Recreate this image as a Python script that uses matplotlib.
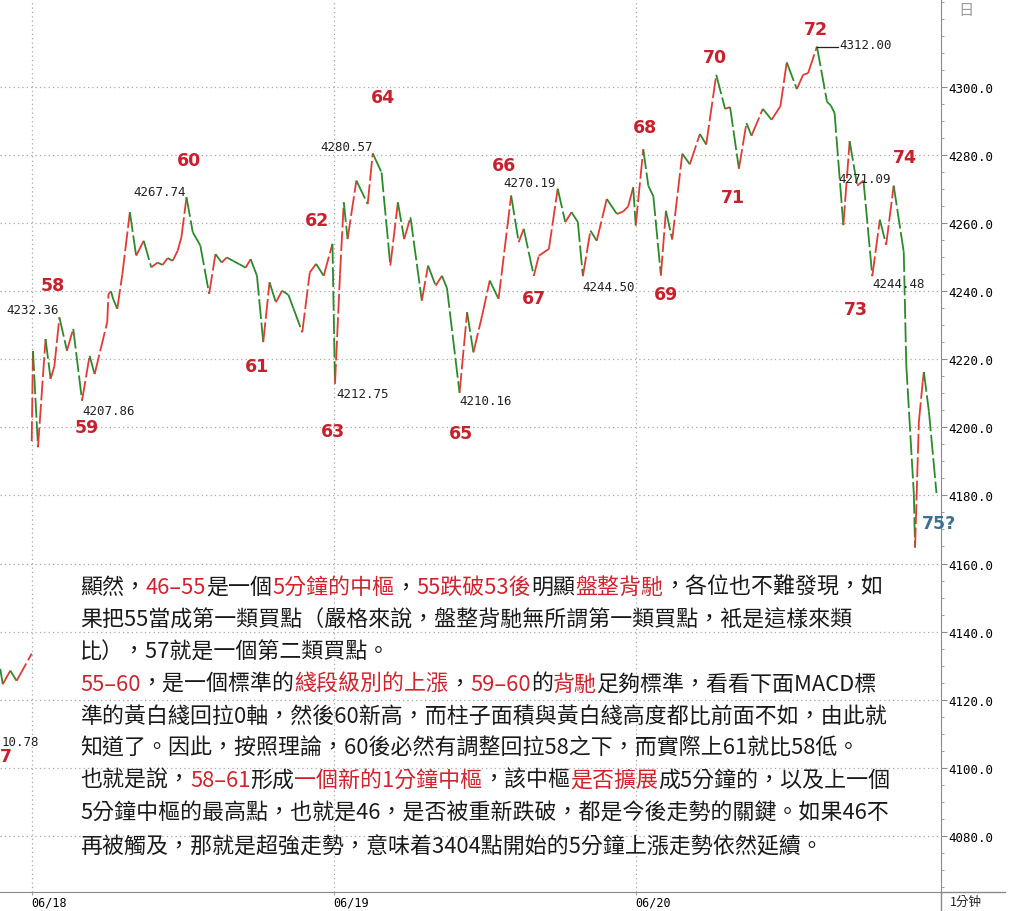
import matplotlib
matplotlib.use("Agg")
import matplotlib.pyplot as plt
from matplotlib.collections import LineCollection
from matplotlib.lines import Line2D
import numpy as np

# 1-minute closes; minutes counted from the 06/18 open (240 per session)
minutes = [0, 1, 5, 11, 15, 18, 22, 28, 33, 40, 46, 50, 60, 61, 63, 65, 68, 72, 78, 83,
           89, 95, 100, 104, 108, 112, 116, 119, 123, 128, 134, 141, 146, 151, 155, 160,
           165, 170, 174, 179, 184, 189, 194, 199, 204, 208, 215, 221, 226, 232, 239,
           241, 245, 248, 251, 258, 267, 271, 278, 285, 291, 296, 301, 310, 315, 321,
           326, 330, 340, 346, 351, 358, 364, 371, 381, 387, 391, 399, 403, 411, 418,
           424, 429, 434, 438, 444, 449, 457, 465, 470, 474, 478, 480, 486, 490, 494,
           500, 504, 509, 517, 523, 531, 536, 544, 551, 555, 562, 568, 572, 581, 588,
           595, 600, 608, 613, 617, 624, 632, 635, 638, 645, 650, 656, 661, 668, 674,
           679, 685, 693, 695, 701, 702, 705, 708, 709, 713, 719]
prices = [4196.0, 4222.5, 4194.2, 4226.0, 4214.3, 4218.0, 4232.4, 4222.6, 4229.0, 4207.9,
          4221.1, 4215.7, 4231.0, 4239.3, 4240.0, 4237.5, 4234.9, 4245.0, 4263.3, 4250.5,
          4254.9, 4247.1, 4248.5, 4247.8, 4249.8, 4249.0, 4252.0, 4256.0, 4267.7, 4257.4,
          4253.5, 4239.3, 4251.0, 4248.5, 4250.0, 4249.0, 4248.0, 4247.0, 4249.5, 4244.6,
          4225.1, 4242.7, 4236.8, 4240.2, 4239.0, 4235.0, 4228.0, 4245.6, 4248.1, 4244.6,
          4254.0, 4212.8, 4245.0, 4266.2, 4255.4, 4272.6, 4265.7, 4280.6, 4275.0, 4247.6,
          4266.2, 4255.4, 4261.8, 4237.3, 4247.6, 4241.7, 4244.6, 4241.0, 4210.2, 4233.9,
          4222.1, 4233.0, 4243.2, 4237.8, 4268.2, 4254.5, 4258.4, 4244.6, 4250.5, 4252.5,
          4270.2, 4260.4, 4263.3, 4260.4, 4244.5, 4257.9, 4254.9, 4267.2, 4262.8, 4263.5,
          4265.0, 4270.6, 4259.4, 4281.8, 4271.1, 4268.0, 4244.7, 4263.7, 4255.3, 4280.5,
          4277.4, 4286.3, 4283.2, 4303.7, 4293.7, 4294.2, 4276.1, 4289.5, 4285.8, 4293.7,
          4290.5, 4294.5, 4307.4, 4299.5, 4303.7, 4304.2, 4312.0, 4295.8, 4294.7, 4292.5,
          4259.5, 4284.2, 4271.1, 4272.6, 4244.5, 4261.1, 4253.7, 4271.1, 4251.6, 4218.4,
          4180.5, 4164.7, 4201.6, 4213.2, 4216.3, 4204.7, 4180.7]

# tail of an older picture showing in the bottom-left corner
prev_minutes = [-25, -23, -17, -12, 0]
prev_prices = [4129.0, 4124.5, 4128.5, 4125.5, 4133.5]

day_starts = [0, 240, 480]
day_labels = ["06/18", "06/19", "06/20"]
y_ticks = list(range(4080, 4301, 20))

# segment numbers (red)
seg_labels = ["58", "59", "60", "61", "62", "63", "64", "65", "66", "67",
              "68", "69", "70", "71", "72", "73", "74"]
seg_x = [17, 44, 125, 179, 227, 239, 279, 341, 375, 399,
         487, 504, 543, 557, 623, 655, 694]
seg_y = [4241.9, 4200.1, 4278.7, 4218.2, 4261.0, 4199.0, 4297.1, 4198.4, 4277.1, 4238.1,
         4288.3, 4239.3, 4309.0, 4267.8, 4317.2, 4234.9, 4279.6]

# high/low price notes (black)
note_texts = ["4232.36", "4207.86", "4267.74", "4280.57", "4212.75", "4210.16",
              "4270.19", "4244.50", "4312.00", "4271.09", "4244.48", "10.78"]
note_x = [-20.4, 40.0, 80.5, 229.1, 241.8, 339.6, 374.5, 437.3, 642.2, 641.4, 667.7, -23.6]
note_y = [4234.6, 4204.9, 4269.4, 4282.5, 4210.1, 4207.8, 4271.9, 4241.6, 4312.5, 4273.1,
          4242.2, 4107.8]

RED = "#d2222e"
BLACK = "#1a1a1a"
text_lines = [
    [("顯然，", BLACK), ("46–55", RED), ("是一個", BLACK), ("5分鐘的中樞", RED), ("，", BLACK),
     ("55跌破53後", RED), ("明顯", BLACK), ("盤整背馳", RED), ("，各位也不難發現，如", BLACK)],
    [("果把55當成第一類買點（嚴格來說，盤整背馳無所謂第一類買點，衹是這樣來類", BLACK)],
    [("比），57就是一個第二類買點。", BLACK)],
    [("55–60", RED), ("，是一個標準的", BLACK), ("綫段級別的上漲", RED), ("，", BLACK),
     ("59–60", RED), ("的", BLACK), ("背馳", RED), ("足夠標準，看看下面MACD標", BLACK)],
    [("準的黃白綫回拉0軸，然後60新高，而柱子面積與黃白綫高度都比前面不如，由此就", BLACK)],
    [("知道了。因此，按照理論，60後必然有調整回拉58之下，而實際上61就比58低。", BLACK)],
    [("也就是說，", BLACK), ("58–61", RED), ("形成", BLACK), ("一個新的1分鐘中樞", RED),
     ("，該中樞", BLACK), ("是否擴展", RED), ("成5分鐘的，以及上一個", BLACK)],
    [("5分鐘中樞的最高點，也就是46，是否被重新跌破，都是今後走勢的關鍵。如果46不", BLACK)],
    [("再被觸及，那就是超強走勢，意味着3404點開始的5分鐘上漲走勢依然延續。", BLACK)],
]

W, H = 1012, 912
CJK = ["Noto Sans CJK TC", "DejaVu Sans"]
MONO = "DejaVu Sans Mono"


def draw_price_line(ax, xs, ys):
    pts = np.column_stack([xs, ys])
    segs = np.stack([pts[:-1], pts[1:]], axis=1)
    cols = ["#e23a36" if b >= a else "#2b8a2b" for a, b in zip(ys[:-1], ys[1:])]
    # each segment restarts the dash pattern, so short wiggles stay solid
    lc = LineCollection(segs, colors=cols, linewidths=1.3, linestyles=[(0, (11, 2))],
                        capstyle="butt", zorder=3)
    ax.add_collection(lc)


def draw_rich_line(fig, renderer, x0_px, y_px, pieces, size=15.8):
    x = x0_px / W
    y = 1 - y_px / H
    for s, c in pieces:
        t = fig.text(x, y, s, color=c, fontsize=size, family=CJK, fontweight="medium",
                     ha="left", va="center")
        bb = t.get_window_extent(renderer=renderer)
        x += bb.width / fig.bbox.width


def main():
    fig = plt.figure(figsize=(W / 100, H / 100), dpi=100)
    ax = fig.add_axes([0, 19 / H, 941 / W, 893 / H])
    ax.set_xlim(-25.2, 722.6)
    ax.set_ylim(4063.4, 4326.0)

    for sp in ["top", "left"]:
        ax.spines[sp].set_visible(False)
    ax.spines["right"].set_color("#8a8a8a")
    ax.spines["bottom"].set_color("#8a8a8a")

    grid_kw = dict(color="#a8a8a8", lw=0.9, ls=(0, (1, 2.5)), zorder=1)
    for v in y_ticks:
        ax.axhline(v, **grid_kw)
    for d in day_starts:
        ax.axvline(d, **grid_kw)

    ax.yaxis.tick_right()
    ax.set_yticks(y_ticks)
    ax.set_yticklabels([f"{v:.1f}" for v in y_ticks], fontsize=9, family=MONO)
    ax.set_yticks(list(range(4065, 4326, 5)), minor=True)
    ax.tick_params(axis="y", which="major", length=4, width=0.8, color="#8a8a8a", pad=1)
    ax.tick_params(axis="y", which="minor", length=2.5, width=0.6, color="#8a8a8a")

    ax.set_xticks(day_starts)
    ax.set_xticklabels(day_labels, fontsize=8.5, family=MONO, ha="left")
    ax.tick_params(axis="x", length=2, width=0.8, color="#a8a8a8", pad=0.3)

    draw_price_line(ax, minutes, prices)
    draw_price_line(ax, prev_minutes, prev_prices)

    for s, x, y in zip(seg_labels, seg_x, seg_y):
        ax.text(x, y, s, color="#c8202c", fontsize=12.5, fontweight="bold",
                ha="center", va="center", zorder=5)
    ax.text(721, 4171.9, "75?", color="#3d6f8e", fontsize=12.5, fontweight="bold",
            ha="center", va="center", clip_on=False, zorder=5)
    ax.text(-25, 4103.5, "7", color="#c8202c", fontsize=12.5, fontweight="bold",
            ha="left", va="center", zorder=5)

    for s, x, y in zip(note_texts, note_x, note_y):
        ax.text(x, y, s, color="#222222", fontsize=9, family=MONO,
                ha="left", va="center", zorder=5)
    ax.plot([624, 640.6], [4312.0, 4312.0], color="#222222", lw=0.9, zorder=4)

    # frame pieces outside the axes
    fig.add_artist(Line2D([941 / W, 941 / W], [0, 19 / H], color="#8a8a8a", lw=1.0))
    fig.add_artist(Line2D([941 / W, 1005 / W], [19 / H, 19 / H], color="#8a8a8a", lw=1.0))
    fig.text(950 / W, 1 - 902 / H, "1分钟", fontsize=9, family=CJK, color="#222222",
             ha="left", va="center")
    fig.text(966 / W, 1 - 11 / H, "日", fontsize=11, family=CJK, color="#9a9a9a",
             ha="center", va="center")

    renderer = fig.canvas.get_renderer()
    line_y = [588, 621, 653, 685, 717, 749, 781, 814, 847]
    for y, pieces in zip(line_y, text_lines):
        draw_rich_line(fig, renderer, 80, y, pieces)

    fig.savefig("out.png", dpi=100)


if __name__ == "__main__":
    main()
